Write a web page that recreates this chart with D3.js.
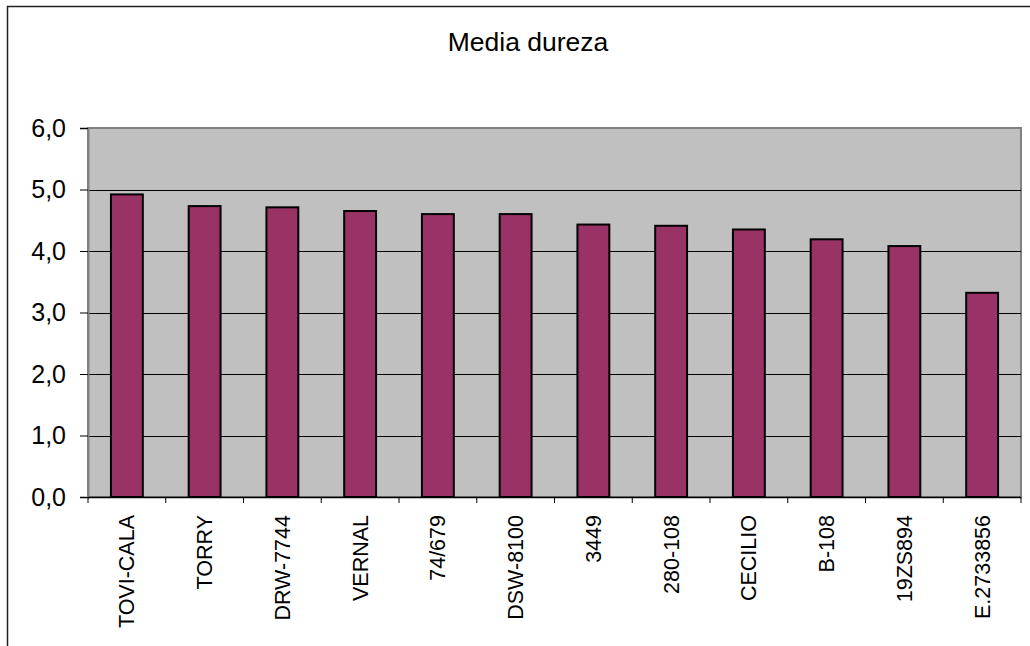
<!DOCTYPE html>
<html><head><meta charset="utf-8">
<script src="https://cdn.jsdelivr.net/npm/d3@7"></script>
<style>body{margin:0;background:#fff}svg{display:block}text{font-family:"Liberation Sans",Arial,sans-serif}</style>
</head><body><svg id="c" width="1030" height="646"></svg>
<script>
const categories = ["TOVI-CALA","TORRY","DRW-7744","VERNAL","74/679","DSW-8100","3449","280-108","CECILIO","B-108","19ZS894","E.2733856"];
const values = [4.92,4.73,4.71,4.65,4.60,4.60,4.43,4.41,4.35,4.19,4.08,3.32];
const yTicks = [0,1,2,3,4,5,6];
const title = "Media dureza";

const svg = d3.select("#c");
const L = 88, R = 1021, T = 128, B = 497;

svg.append("rect").attr("x",7.5).attr("y",6.5).attr("width",1040).attr("height",700)
  .attr("fill","#fff").attr("stroke","#222").attr("stroke-width",1.5);

svg.append("text").attr("x",528).attr("y",51).attr("text-anchor","middle")
  .attr("font-size",26.5).attr("fill","#000").text(title);

const x = d3.scaleBand().domain(categories).range([L,R]).paddingInner(0.59).paddingOuter(0.295);
const y = d3.scaleLinear().domain([0,6]).range([B,T]);

svg.append("rect").attr("x",L).attr("y",T).attr("width",R-L).attr("height",B-T)
  .attr("fill","#c0c0c0").attr("stroke","#808080").attr("stroke-width",2);

svg.append("g").selectAll("line").data(yTicks.filter(d=>d>0&&d<6)).join("line")
  .attr("x1",L).attr("x2",R).attr("y1",d=>Math.round(y(d))+0.5).attr("y2",d=>Math.round(y(d))+0.5)
  .attr("stroke","#000").attr("stroke-width",1);

svg.append("g").selectAll("rect").data(values).join("rect")
  .attr("x",(d,i)=>x(categories[i])).attr("width",x.bandwidth())
  .attr("y",d=>y(d)).attr("height",d=>B-y(d))
  .attr("fill","#993366").attr("stroke","#000").attr("stroke-width",2);

const yAxis = svg.append("g").attr("transform",`translate(${L},0)`)
  .call(d3.axisLeft(y).tickValues(yTicks).tickSize(8).tickPadding(14).tickFormat(d=>d3.format(".1f")(d).replace(".",",")));
yAxis.select(".domain").attr("stroke","#808080").attr("stroke-width",2);
yAxis.selectAll(".tick line").attr("stroke","#000");
yAxis.selectAll("text").attr("font-size",25).attr("fill","#000").attr("font-family","Liberation Sans, Arial, sans-serif");

const xEdge = d3.scalePoint().domain(d3.range(categories.length+1)).range([L,R]);
const xg = svg.append("g");
xg.append("line").attr("x1",L).attr("x2",R).attr("y1",B+0.5).attr("y2",B+0.5).attr("stroke","#000").attr("stroke-width",1.5);
xg.selectAll("line.t").data(d3.range(categories.length+1)).join("line").attr("class","t")
  .attr("x1",d=>xEdge(d)).attr("x2",d=>xEdge(d)).attr("y1",B).attr("y2",B+6).attr("stroke","#000");
xg.selectAll("text").data(categories).join("text")
  .attr("transform",d=>`translate(${x(d)+x.bandwidth()/2+7.5},515) rotate(-90)`)
  .attr("text-anchor","end").attr("font-size",21.5).attr("fill","#000").text(d=>d);
</script></body></html>
